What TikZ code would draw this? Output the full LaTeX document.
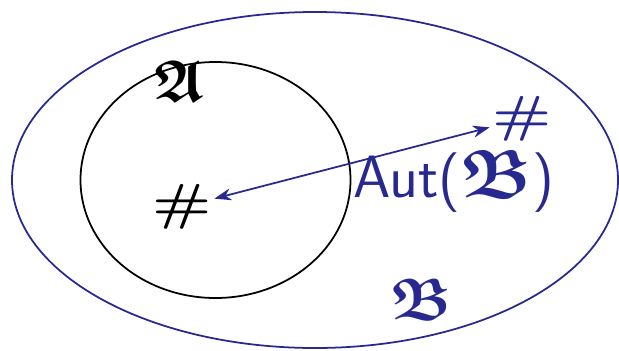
\documentclass[tikz,border=0pt]{standalone}
\usepackage{amsmath,amssymb}
\usepackage{tikz}
\usetikzlibrary{arrows.meta}
\usepackage{xcolor}
\definecolor{navy}{RGB}{40,40,145}

\begin{document}
\begin{tikzpicture}[>={Stealth[length=3.4mm,width=2.4mm]},line cap=round,line width=1pt,
  hash/.style={font=\fontsize{36}{42}\selectfont\bfseries,yscale=0.8,inner sep=0pt,outer sep=1.5pt},
  frak/.style={font=\fontsize{24.88}{30}\selectfont,scale=1.35}]
\useasboundingbox (0,0) rectangle (12.38,7);
\draw[navy] (6.3,3.4) ellipse (6.06 and 3.36);
\draw[black] (4.31,3.4) ellipse (2.7 and 2.36);
\node[frak] (fA) at (3.6,5.38) {$\boldsymbol{\mathfrak{A}}$};
\node[frak,navy] (fB) at (8.42,1.02) {$\boldsymbol{\mathfrak{B}}$};
\node[hash] (hashA) at (3.64,2.86) {\#};
\node[hash,navy] (hashB) at (10.44,4.62) {\#};
\draw[<->,navy] (hashA) -- (hashB);
\node[navy,font=\fontsize{34}{40}\selectfont\sffamily] (aut) at (9.08,3.38) {Aut(\scalebox{1.15}{$\boldsymbol{\mathfrak{B}}$})};
\end{tikzpicture}
\end{document}
